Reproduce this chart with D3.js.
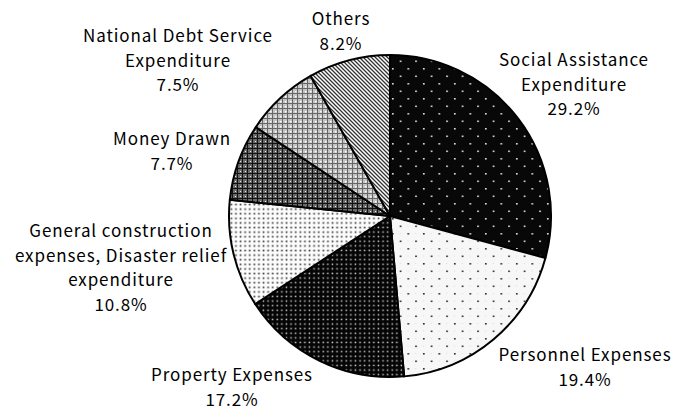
<!DOCTYPE html>
<html><head><meta charset="utf-8">
<script src="https://cdn.jsdelivr.net/npm/d3@7"></script>
<style>body{margin:0;background:#fff}text{font-family:"Noto Sans CJK JP","Noto Sans",sans-serif;}</style>
</head><body>
<svg id="c" width="679" height="409"></svg>
<script>
const categories = ["Social Assistance Expenditure","Personnel Expenses","Property Expenses","General construction expenses, Disaster relief expenditure","Money Drawn","National Debt Service Expenditure","Others"];
const values = [29.2, 19.4, 17.2, 10.8, 7.7, 7.5, 8.2];
const labelLines = [
  ["Social Assistance","Expenditure","29.2%"],
  ["Personnel Expenses","19.4%"],
  ["Property Expenses","17.2%"],
  ["General construction","expenses, Disaster relief","expenditure","10.8%"],
  ["Money Drawn","7.7%"],
  ["National Debt Service","Expenditure","7.5%"],
  ["Others","8.2%"]
];
// layout (label anchor: center x, first baseline y)
const labelPos = [[574,66],[585,361],[232,381],[121,237],[172,145],[178,42],[341,25]];
const cx = 390, cy = 216, R = 161, lineH = 24.5;

const svg = d3.select("#c");
const defs = svg.append("defs");
function pat(id, w, h, bg, build){
  const p = defs.append("pattern").attr("id", id).attr("patternUnits","userSpaceOnUse").attr("width", w).attr("height", h);
  p.append("rect").attr("width", w).attr("height", h).attr("fill", bg);
  build(p);
}
pat("p0", 15.5, 15, "#080808", p => {
  p.append("rect").attr("x",2).attr("y",2).attr("width",1.6).attr("height",1.6).attr("fill","#e8e8e8");
  p.append("rect").attr("x",9.75).attr("y",9.5).attr("width",1.6).attr("height",1.6).attr("fill","#e8e8e8");
});
pat("p1", 15.5, 15, "#f7f7f7", p => {
  p.append("rect").attr("x",2).attr("y",2).attr("width",1.6).attr("height",1.6).attr("fill","#222");
  p.append("rect").attr("x",9.75).attr("y",9.5).attr("width",1.6).attr("height",1.6).attr("fill","#222");
  p.append("rect").attr("x",9.75).attr("y",2).attr("width",1).attr("height",1).attr("fill","#ddd");
  p.append("rect").attr("x",2).attr("y",9.5).attr("width",1).attr("height",1).attr("fill","#ddd");
});
pat("p2", 4.6, 4.6, "#050505", p => {
  p.append("rect").attr("x",1.5).attr("y",1.5).attr("width",1.5).attr("height",1.5).attr("fill","#c8c8c8");
});
pat("p3", 4.6, 4.6, "#fcfcfc", p => {
  p.append("rect").attr("x",1.5).attr("y",1.5).attr("width",1.7).attr("height",1.7).attr("fill","#444");
});
pat("p4", 5, 5, "#6a6a6a", p => {
  p.append("rect").attr("x",0).attr("y",2).attr("width",5).attr("height",1).attr("fill","#111");
  p.append("rect").attr("x",2).attr("y",0).attr("width",1).attr("height",5).attr("fill","#111");
  p.append("rect").attr("x",0).attr("y",0).attr("width",1).attr("height",1).attr("fill","#eee");
});
pat("p5", 5, 5, "#c4c4c4", p => {
  p.append("rect").attr("x",0).attr("y",2).attr("width",5).attr("height",1).attr("fill","#666");
  p.append("rect").attr("x",2).attr("y",0).attr("width",1).attr("height",5).attr("fill","#666");
  p.append("rect").attr("x",0).attr("y",0).attr("width",1.5).attr("height",1.5).attr("fill","#fff");
});
pat("p6", 4, 4, "#fff", p => {
  p.append("path").attr("d","M-1,-1 L5,5 M-1,3 L1,5 M3,-1 L5,1").attr("stroke","#333").attr("stroke-width",1.3);
});

const pie = d3.pie().sort(null).value(d => d)(values);
const arc = d3.arc().innerRadius(0).outerRadius(R);
const g = svg.append("g").attr("transform", `translate(${cx},${cy})`);
g.selectAll("path").data(pie).join("path")
  .attr("d", arc)
  .attr("fill", (d,i) => `url(#p${i})`)
  .attr("stroke", "#000").attr("stroke-width", 2).attr("stroke-linejoin","round");

const lab = svg.append("g");
labelLines.forEach((lines, i) => {
  const t = lab.append("text").attr("text-anchor","middle").attr("font-size", 17)
    .attr("letter-spacing", 0.9).attr("fill","#000");
  lines.forEach((s, k) => {
    t.append("tspan").attr("x", labelPos[i][0]).attr("y", labelPos[i][1] + k*lineH).text(s);
  });
});
</script>
</body></html>
